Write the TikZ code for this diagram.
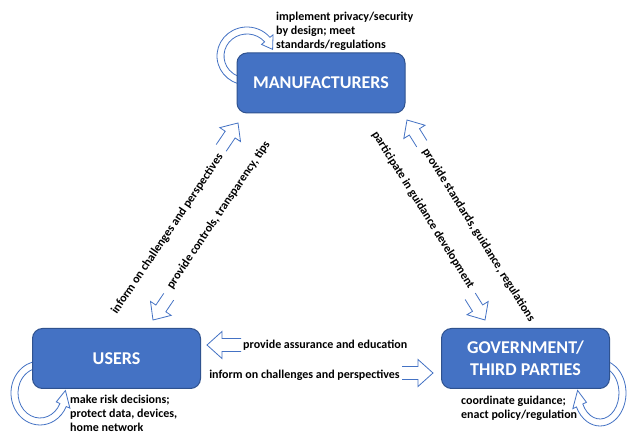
\documentclass[tikz,border=0pt]{standalone}
\usepackage{fontspec}
\setmainfont{Carlito}
\usetikzlibrary{calc}
\definecolor{boxfill}{HTML}{4472C4}
\definecolor{boxline}{HTML}{2F528F}
\definecolor{arrowline}{HTML}{4472C4}
\tikzset{
  party/.style={draw=boxline, line width=1pt, fill=boxfill, rounded corners=10pt,
    text=white, font=\fontsize{18}{22}\selectfont\bfseries, align=center,
    minimum width=168pt, minimum height=60pt, inner sep=0pt},
  lbl/.style={font=\fontsize{12}{14}\selectfont\bfseries, inner sep=0pt, align=left},
  blockarrow/.style={draw=arrowline, line width=0.8pt, fill=white, line join=miter},
  loopline/.style={draw=arrowline, line width=0.8pt, fill=white, line join=miter},
}
% block arrow: tail, tip, shaft half width, head half width, head length
\newcommand{\blockarr}[5]{%
  \coordinate (baH) at ($(#2)!#5!(#1)$);
  \draw[blockarrow] ($(#1)!#3!90:(#2)$) -- ($(baH)!#3!90:(#2)$) -- ($(baH)!#4!90:(#2)$)
    -- (#2) -- ($(baH)!#4!-90:(#2)$) -- ($(baH)!#3!-90:(#2)$) -- ($(#1)!#3!-90:(#2)$);}
% circular arrow: centre, start, end, tip angle, outer xr, outer yr, inner xr, inner yr
\newcommand{\looparrow}[8]{%
  \pgfmathsetmacro\loSx{(#5)*cos(#2)}\pgfmathsetmacro\loSy{(#6)*sin(#2)}%
  \pgfmathsetmacro\loAx{(#5+4)*cos(#3)}\pgfmathsetmacro\loAy{(#6+4)*sin(#3)}%
  \pgfmathsetmacro\loTx{(#5+#7)/2*cos(#4)}\pgfmathsetmacro\loTy{(#6+#8)/2*sin(#4)}%
  \pgfmathsetmacro\loBx{(#7-4)*cos(#3)}\pgfmathsetmacro\loBy{(#8-4)*sin(#3)}%
  \pgfmathsetmacro\loCx{(#7)*cos(#3)}\pgfmathsetmacro\loCy{(#8)*sin(#3)}%
  \draw[loopline] ($(#1)+(\loSx,\loSy)$) arc[start angle=#2, end angle=#3, x radius=#5, y radius=#6]
    -- ($(#1)+(\loAx,\loAy)$) -- ($(#1)+(\loTx,\loTy)$)
    -- ($(#1)+(\loBx,\loBy)$) -- ($(#1)+(\loCx,\loCy)$)
    arc[start angle=#3, end angle=#2, x radius=#7, y radius=#8] -- cycle;}
\begin{document}
\begin{tikzpicture}[x=1pt, y=1pt]
\useasboundingbox (0,0) rectangle (627,433);
\fill[white] (0,0) rectangle (627,433);

% loops (drawn first, boxes cover their tails)
\coordinate (manc) at (247,377);
\coordinate (usrc) at (40,40);
\coordinate (govc) at (600,40);
\looparrow{manc}{275}{40}{15}{30}{29}{23}{22}
\looparrow{usrc}{60}{335}{365}{29}{32}{22}{25}
\looparrow{govc}{120}{-155}{-185}{26}{33}{19}{26}

% parties
\node[party] (man) at (321,350) {MANUFACTURERS};
\node[party] (usr) at (116.5,74.5) {USERS};
\node[party] (gov) at (525.5,74.5) {GOVERNMENT/\\THIRD PARTIES};

% horizontal arrows
\coordinate (h1t) at (241,88);  \coordinate (h1h) at (207,88);
\coordinate (h2t) at (402,60);  \coordinate (h2h) at (433,60);
\blockarr{h1t}{h1h}{6.5pt}{13.5pt}{15pt}
\blockarr{h2t}{h2h}{6.5pt}{13.5pt}{15pt}
\node[lbl, anchor=west] (h1l) at (243,88) {provide assurance and education};
\node[lbl] (h2l) at (304.5,58) {inform on challenges and perspectives};

% diagonal arrows, left pair
\coordinate (lut) at (221.2,285.1); \coordinate (luh) at (238,310);
\coordinate (llt) at (168.7,136.2); \coordinate (llh) at (153,113);
\blockarr{lut}{luh}{6pt}{12.5pt}{14pt}
\blockarr{llt}{llh}{6pt}{12.5pt}{14pt}
\node[lbl, rotate=56] (lul) at (167.5,199) {inform on challenges and perspectives};
\node[lbl, rotate=56] (lll) at (218.5,218) {provide controls, transparency, tips};

% diagonal arrows, right pair
\coordinate (rut) at (421.8,289.3); \coordinate (ruh) at (407,313);
\coordinate (rlt) at (470.2,136.7); \coordinate (rlh) at (485,113);
\blockarr{rut}{ruh}{6pt}{12.5pt}{14pt}
\blockarr{rlt}{rlh}{6pt}{12.5pt}{14pt}
\node[lbl, rotate=-58] (rll) at (423,223) {participate in guidance development};
\node[lbl, rotate=-58] (rul) at (478.5,198) {provide standards, guidance, regulations};

% self labels
\node[lbl, anchor=west] (manl) at (276,402) {implement privacy/security\\by design; meet\\standards/regulations};
\node[lbl, anchor=west] (usrl) at (70,19.5) {make risk decisions;\\protect data, devices,\\home network};
\node[lbl, anchor=west] (govl) at (461,24.5) {coordinate guidance;\\enact policy/regulation};
\end{tikzpicture}
\end{document}
